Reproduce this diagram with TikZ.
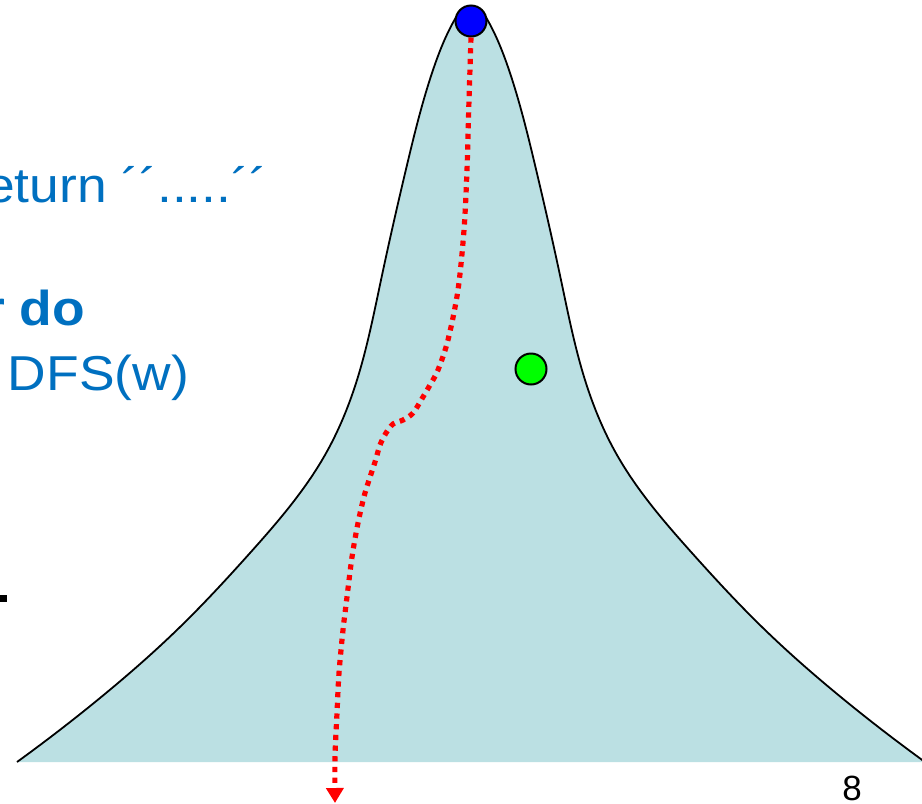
\documentclass[tikz,border=0pt]{standalone}
\usepackage{fontspec}
\setmainfont{Liberation Sans}
\usetikzlibrary{arrows.meta,hobby}
\definecolor{fillc}{RGB}{187,224,227}
\definecolor{txtblue}{RGB}{0,112,192}
\definecolor{dotblue}{RGB}{0,0,255}
\definecolor{dotgreen}{RGB}{0,255,0}
\begin{document}
\begin{tikzpicture}[x=0.5pt,y=-0.5pt,
  txt/.style={inner sep=0pt, outer sep=0pt, xscale=1.09, transform shape, text=txtblue, font=\fontsize{24.5pt}{29pt}\selectfont},
  vtx/.style={circle, draw=black, line width=1pt, minimum size=15.5pt, inner sep=0pt},
  route/.style={red, line width=2.6pt, dash pattern=on 2.6pt off 2.75pt, -{Triangle[width=8.5pt,length=7.5pt]}}]
\useasboundingbox (0,0) rectangle (922,804);
\clip (0,0) rectangle (922,804);
% peak shape
\draw[fill=fillc, line width=0.9pt, use Hobby shortcut]
  (17,762) .. (100,698) .. (180,627) .. (250,553) .. (325,455) .. (357,380)
  .. (381,280) .. (407,165) .. (433,70) .. (455,19) .. (471,6)
  .. (487,19) .. (509,70) .. (535,165) .. (561,280)
  .. (585,380) .. (617,455) .. (692,553) .. (762,627) .. (842,698) .. (925,762);
% texts
\node[txt, anchor=base east] (ret) at (267,202) {return ´´.....´´};
\node[txt, anchor=base east] (do) at (85,325) {\textbf{r do}};
\node[txt, anchor=base west] (dfs) at (8,390) {DFS(w)};
\node[inner sep=0pt, anchor=base, font=\fontsize{17.5pt}{21pt}\selectfont] (pg) at (852,800) {8};
\fill (0,595) rectangle (7,602);
% vertices
\node[vtx, fill=dotblue] (top) at (471,21) {};
\node[vtx, fill=dotgreen] (g) at (531,369) {};
\coordinate (tipend) at (335,803);
% route
\draw[route] plot[smooth, tension=0.5] coordinates {
  (top.south) (469,100) (467,170) (464,230) (458,290) (448,340) (438,370) (430,385)
  (423,397) (413,413) (403,420) (393,424) (386,433) (380,445) (375,462) (365,493)
  (358,523) (352,557) (347,597) (343,630) (339,673) (337,713) (335,757) (tipend)};
\end{tikzpicture}
\end{document}
